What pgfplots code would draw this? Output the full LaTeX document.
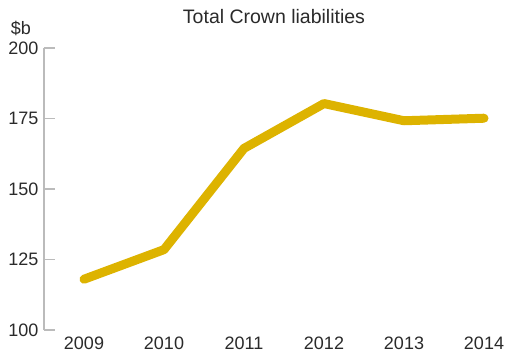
\documentclass[border=0pt]{standalone}
\usepackage{pgfplots}
\pgfplotsset{compat=1.18}
\usepackage{fontspec}
\setmainfont{Liberation Sans}
\definecolor{gold}{HTML}{DDB300}
\definecolor{axgray}{HTML}{BBBBBB}
\definecolor{txt}{HTML}{2A2A2A}
\begin{document}
\begin{tikzpicture}[x=1pt,y=1pt]
\useasboundingbox (-44pt,-23pt) rectangle (461pt,330pt);
\begin{axis}[
  at={(0,0)}, anchor=origin,
  scale only axis, width=460pt, height=282pt,
  xmin=2008.5, xmax=2014.25,
  ymin=100, ymax=200,
  ytick={100,125,150,175,200},
  xtick={2009,2010,2011,2012,2013,2014},
  xticklabels={2009,2010,2011,2012,2013,2014},
  axis lines*=left,
  x axis line style={draw=none},
  xtick style={draw=none},
  y axis line style={axgray, line width=1.2pt, -},
  ytick style={axgray, line width=1.2pt},
  tick align=inside,
  major tick length=11pt,
  /pgf/number format/assume math mode=true,
  yticklabel style={font=\fontsize{18}{20}\selectfont, text=txt, xshift=-2pt},
  xticklabel style={font=\fontsize{18}{20}\selectfont, text=txt, yshift=-3pt},
  clip=false,
]
\addplot[gold, line width=9pt, line cap=round, line join=round] coordinates {
(2009,118.0) (2010,128.5) (2011,164.4) (2012,180.3) (2013,174.2) (2014,175.1)
};
\node[font=\fontsize{18}{20}\selectfont, text=txt] at ([xshift=-23pt,yshift=20pt]rel axis cs:0,1) {\$b};
\node[font=\fontsize{19.5}{21}\selectfont, text=txt] at ([yshift=31pt]rel axis cs:0.5,1) {Total Crown liabilities};
\end{axis}
\end{tikzpicture}
\end{document}
